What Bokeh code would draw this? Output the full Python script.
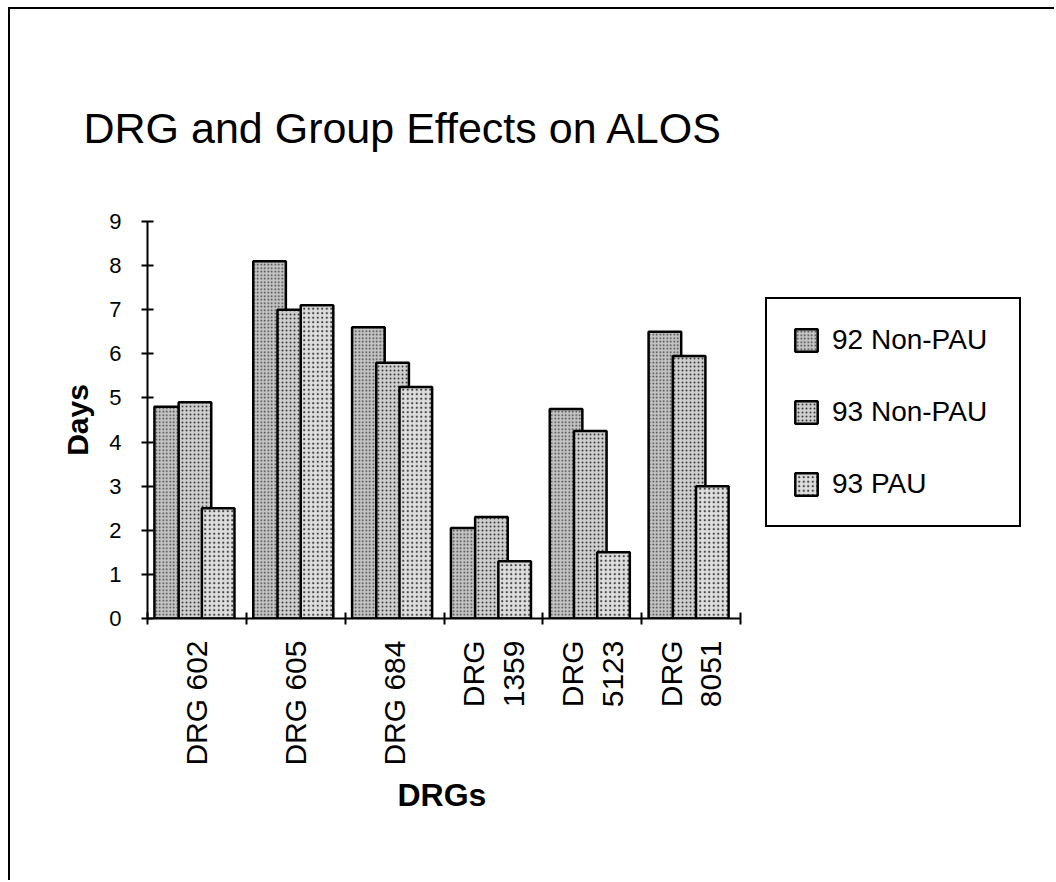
import math
from bokeh.plotting import figure
from bokeh.models import (ColumnDataSource, FixedTicker, Legend, LegendItem, Range1d, Title)
from bokeh.embed import file_html
from bokeh.resources import INLINE

# ---- data ----
categories = ["DRG 602", "DRG 605", "DRG 684", "DRG\n1359", "DRG\n5123", "DRG\n8051"]
series_names = ["92 Non-PAU", "93 Non-PAU", "93 PAU"]
non_pau_92 = [4.8, 8.1, 6.6, 2.05, 4.75, 6.5]
non_pau_93 = [4.9, 7.0, 5.8, 2.3, 4.25, 5.95]
pau_93 = [2.5, 7.1, 5.25, 1.3, 1.5, 3.0]
y_ticks = [0, 1, 2, 3, 4, 5, 6, 7, 8, 9]

title_text = "DRG and Group Effects on ALOS"
x_title = "DRGs"
y_title = "Days"

# ---- style ----
FONT = "Liberation Sans"
fills = ["#c4c4c4", "#cecece", "#dedede"]
hatch_scales = [3.5, 4.0, 4.5]
offsets = [-0.265, -0.02, 0.215]
bar_width = 0.33
AXIS_W = 593      # pixel length of the category axis
FRAME_W = 893     # frame extends right so the legend sits inside it
FRAME_H = 397

n = len(categories)
x_end = n * FRAME_W / AXIS_W
p = figure(frame_width=FRAME_W, frame_height=FRAME_H, output_backend="svg", toolbar_location=None,
           x_range=Range1d(0, x_end), y_range=Range1d(0, 9),
           min_border_left=147, min_border_right=14,
           min_border_top=221, min_border_bottom=262,
           background_fill_color="white", border_fill_color=None,
           outline_line_color=None)
p.styles = {
    "background-color": "white",
    "background-image": "linear-gradient(#000,#000), linear-gradient(#000,#000)",
    "background-size": "2px 880px, 1050px 2px",
    "background-position": "8px 8px, 8px 7px",
    "background-repeat": "no-repeat",
}

series = [non_pau_92, non_pau_93, pau_93]
renderers = []
for k, vals in enumerate(series):
    src = ColumnDataSource(dict(x=[i + 0.5 + offsets[k] for i in range(n)], top=vals))
    r = p.vbar(x="x", top="top", bottom=0, width=bar_width, source=src,
               fill_color=fills[k], line_color="black", line_width=2.5,
               hatch_pattern="dot", hatch_color="black", hatch_scale=hatch_scales[k],
               hatch_weight=1.2, hatch_alpha=0.7)
    renderers.append(r)

p.grid.visible = False

# x axis
xa = p.xaxis[0]
xa.bounds = (0, n)
xa.ticker = FixedTicker(ticks=[i + 0.5 for i in range(n)], minor_ticks=list(range(n + 1)))
xa.major_label_overrides = {i + 0.5: c for i, c in enumerate(categories)}
xa.major_label_orientation = math.pi / 2
xa.major_tick_in = 0
xa.major_tick_out = 0
xa.minor_tick_in = 6
xa.minor_tick_out = 6
xa.minor_tick_line_width = 2
xa.minor_tick_line_color = "black"
xa.axis_line_width = 2
xa.axis_line_color = "black"
xa.major_label_text_font = FONT
xa.major_label_text_font_size = "30px"
xa.major_label_text_color = "black"
xa.major_label_standoff = 16

# x-axis title, centred under the category axis (not the wider frame)
x_label = Title(text=x_title, align="left", offset=250, standoff=12,
                text_font=FONT, text_font_size="32px", text_font_style="bold",
                text_color="black")
p.add_layout(x_label, "below")

# y axis
ya = p.yaxis[0]
ya.ticker = FixedTicker(ticks=y_ticks)
ya.major_tick_in = 6
ya.major_tick_out = 6
ya.major_tick_line_width = 2
ya.major_tick_line_color = "black"
ya.minor_tick_line_color = None
ya.axis_line_width = 2
ya.axis_line_color = "black"
ya.major_label_text_font = FONT
ya.major_label_text_font_size = "22px"
ya.major_label_text_color = "black"
ya.major_label_standoff = 20
ya.axis_label = y_title
ya.axis_label_text_font = FONT
ya.axis_label_text_font_size = "30px"
ya.axis_label_text_font_style = "bold"
ya.axis_label_text_color = "black"
ya.axis_label_standoff = 12

# title
p.title.text = title_text
p.title.text_font = FONT
p.title.text_font_size = "43px"
p.title.text_font_style = "normal"
p.title.text_color = "black"
p.title.align = "left"
p.title.offset = -64
p.title.standoff = 140

# legend (screen px relative to the frame's bottom-left)
legend = Legend(items=[LegendItem(label=s, renderers=[r]) for s, r in zip(series_names, renderers)],
                location=(618, 91), orientation="vertical",
                glyph_width=28, glyph_height=28, label_height=28, label_width=162,
                label_text_font=FONT, label_text_font_size="28px", label_text_color="black",
                label_standoff=12, padding=25, spacing=40, margin=0,
                border_line_color="black", border_line_width=2, border_line_alpha=1.0,
                background_fill_color="white", background_fill_alpha=1.0)
p.add_layout(legend)

open("out.html", "w").write(file_html(p, INLINE))
